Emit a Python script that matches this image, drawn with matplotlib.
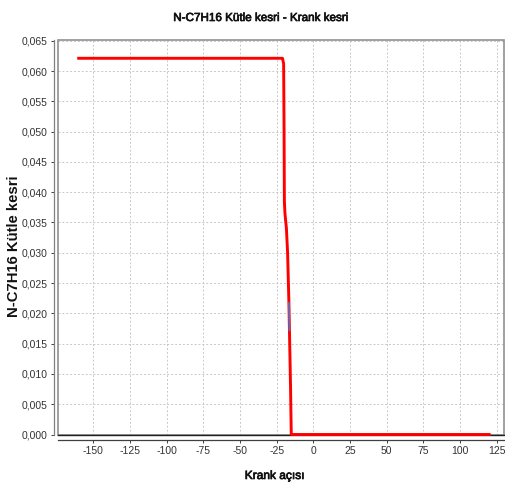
import matplotlib
matplotlib.use("Agg")
import matplotlib.pyplot as plt
from matplotlib.patches import Rectangle
import matplotlib.patheffects as pe

# Data (crank angle, N-C7H16 mass fraction)
crank_angle = [-160.0, -21.0, -20.2, -19.9, -19.7, -19.3, -18.3, -17.5, -16.6, -15.5, -15.0, 120.0]
mass_fraction = [0.0621, 0.0621, 0.0612, 0.0500, 0.0385, 0.0365, 0.0340, 0.0300, 0.0217, 0.0080, 0.0, 0.0]
blue_angle = [-16.6, -16.3]
blue_fraction = [0.0217, 0.0172]

x_ticks = [-150, -125, -100, -75, -50, -25, 0, 25, 50, 75, 100, 125]
y_ticks = [0.000, 0.005, 0.010, 0.015, 0.020, 0.025, 0.030, 0.035, 0.040, 0.045, 0.050, 0.055, 0.060, 0.065]

plt.rcParams['font.family'] = ['Liberation Sans', 'DejaVu Sans']

W, H = 505, 491
fig = plt.figure(figsize=(W / 100, H / 100), dpi=100)
left, right, top, bottom = 58, 504, 39.5, 434.5
ax = fig.add_axes([left / W, 1 - bottom / H, (right - left) / W, (bottom - top) / H])

ax.plot(crank_angle, mass_fraction, color='#ff0000', lw=2.1, solid_joinstyle='round',
        zorder=7, clip_on=False)
ax.plot(blue_angle, blue_fraction, color='#6a6ab8', lw=1.3, zorder=8)

ax.set_xlim(-174.1, 130.1)
ax.set_ylim(0, 0.0652)
ax.set_xticks(x_ticks)
ax.set_xticklabels([str(v) for v in x_ticks])
ax.set_yticks(y_ticks)
ax.set_yticklabels([f"{v:.3f}".replace('.', ',') for v in y_ticks])

ax.grid(True, color='#c8c8c8', linestyle=(0, (2, 2)), linewidth=0.7)

for s in ['top', 'right']:
    ax.spines[s].set_visible(False)
ax.spines['left'].set_position(('outward', 3))
ax.spines['bottom'].set_position(('outward', 4))
ax.spines['left'].set_color('#808080')
ax.spines['bottom'].set_color('#404040')
ax.spines['left'].set_linewidth(0.9)
ax.spines['bottom'].set_linewidth(0.9)

# plot area border
ax.add_patch(Rectangle((0, 0), 1, 1, transform=ax.transAxes, fill=False,
                       edgecolor='#909090', lw=1.2, zorder=5, clip_on=False))
ax.plot([0, 1], [0, 0], transform=ax.transAxes, color='#202020', lw=1.0, zorder=5, clip_on=False)

ax.tick_params(axis='both', labelsize=7.5, colors='#404040', length=2.5, width=0.7, pad=2)
for lbl in ax.get_xticklabels() + ax.get_yticklabels():
    lbl.set_color('#333333')

heavy = [pe.withStroke(linewidth=0.5, foreground='#111111')]
fig.text(261 / W, 1 - 18 / H, 'N-C7H16 Kütle kesri - Krank kesri', ha='center', va='center',
         fontsize=8.4, color='#111111', path_effects=heavy)
fig.text(274.5 / W, 1 - 476 / H, 'Krank açısı', ha='center', va='center',
         fontsize=8.6, color='#111111', path_effects=heavy)
fig.text(14.5 / W, 1 - 246 / H, 'N-C7H16 Kütle kesri', ha='center', va='center', rotation=90,
         fontsize=10.7, fontweight='bold', color='#111111')

fig.savefig('out.png', dpi=100)
